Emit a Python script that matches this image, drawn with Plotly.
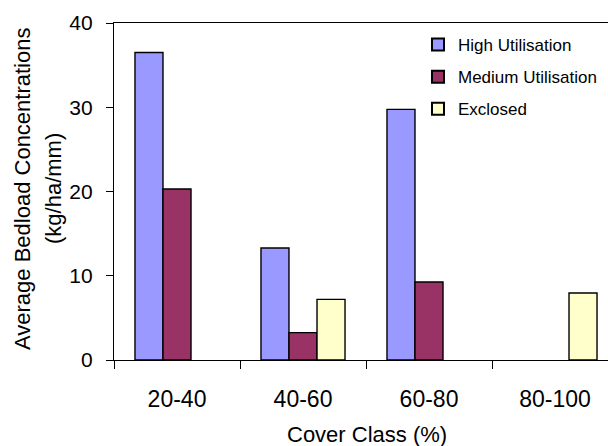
import plotly.graph_objects as go

# Cover classes and average bedload concentrations per utilisation level
categories = ["20-40", "40-60", "60-80", "80-100"]
high_util = [36.5, 13.3, 29.75, None]
medium_util = [20.3, 3.25, 9.25, None]
exclosed = [None, 7.2, None, 7.95]

y_ticks = [0, 10, 20, 30, 40]

FONT = "Liberation Sans, Arial, sans-serif"

fig = go.Figure()
series = [
    ("High Utilisation", high_util, "#9999FF"),
    ("Medium Utilisation", medium_util, "#993366"),
    ("Exclosed", exclosed, "#FFFFCC"),
]
for name, vals, color in series:
    fig.add_trace(go.Bar(
        name=name,
        legendgroup=name,
        x=categories,
        y=vals,
        marker=dict(color=color, line=dict(color="black", width=1.4)),
    ))

W, H = 608, 446
L, R, T, B = 114, 0, 23, 86
plot_w = W - L - R
plot_h = H - T - B
cat_px = 126.0


def px_x(px):
    return (px - L) / plot_w


def px_y(py):
    return (H - B - py) / plot_h


fig.update_layout(
    width=W, height=H,
    margin=dict(l=L, r=R, t=T, b=B, pad=0, autoexpand=False),
    paper_bgcolor="white",
    plot_bgcolor="white",
    barmode="group",
    bargap=0.333,
    bargroupgap=0,
    font=dict(family=FONT, color="black"),
    showlegend=True,
    legend=dict(
        x=px_x(418), y=px_y(27), xanchor="left", yanchor="top",
        font=dict(size=17, family=FONT),
        bgcolor="rgba(0,0,0,0)",
        itemsizing="constant",
        traceorder="grouped",
        tracegroupgap=7,
        itemwidth=30,
    ),
    xaxis=dict(
        type="category",
        range=[-0.5, -0.5 + plot_w / cat_px],
        showline=True, linecolor="black", linewidth=1.2,
        mirror=True,
        ticks="outside", ticklen=8, tickcolor="black", tickwidth=1,
        tickson="boundaries",
        tickfont=dict(size=23, family=FONT),
        ticklabelstandoff=18,
        showgrid=False,
        zeroline=False,
    ),
    yaxis=dict(
        range=[0, 40],
        tickvals=y_ticks,
        showline=True, linecolor="black", linewidth=1.2,
        ticks="outside", ticklen=7, tickcolor="black", tickwidth=1,
        tickfont=dict(size=21, family=FONT),
        ticklabelstandoff=9,
        showgrid=False,
        zeroline=False,
    ),
    annotations=[
        dict(
            text="Average Bedload Concentrations",
            xref="paper", yref="paper",
            x=px_x(22), y=px_y(189),
            xanchor="center", yanchor="middle",
            textangle=-90, showarrow=False,
            font=dict(size=22, family=FONT),
        ),
        dict(
            text="(kg/ha/mm)",
            xref="paper", yref="paper",
            x=px_x(53), y=px_y(189),
            xanchor="center", yanchor="middle",
            textangle=-90, showarrow=False,
            font=dict(size=22, family=FONT),
        ),
        dict(
            text="Cover Class (%)",
            xref="paper", yref="paper",
            x=px_x(367), y=px_y(434),
            xanchor="center", yanchor="middle",
            showarrow=False,
            font=dict(size=22, family=FONT),
        ),
    ],
)

fig.write_html("out.html")
